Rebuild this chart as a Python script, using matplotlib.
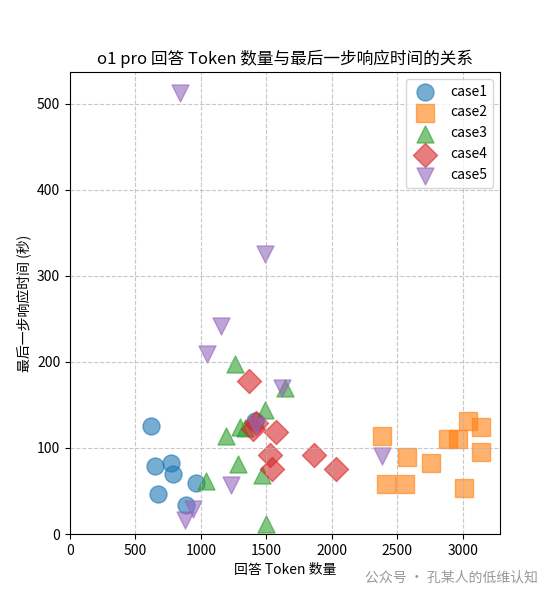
import matplotlib
matplotlib.use("Agg")
import matplotlib.pyplot as plt

plt.rcParams['font.family'] = ['Noto Sans CJK SC', 'DejaVu Sans']

c1x = [620, 650, 670, 770, 790, 890, 960, 1410]
c1y = [125, 79, 47, 82, 70, 34, 59, 131]
c2x = [2380, 2410, 2570, 2560, 2760, 2890, 2960, 3040, 3140, 3140, 3010]
c2y = [114, 58, 89, 58, 83, 111, 110, 131, 124, 95, 53]
c3x = [1040, 1190, 1260, 1280, 1300, 1340, 1470, 1490, 1500, 1640]
c3y = [62, 114, 198, 81, 124, 123, 69, 144, 12, 170]
c4x = [1370, 1400, 1420, 1530, 1540, 1570, 1860, 2030]
c4y = [178, 122, 129, 92, 75, 118, 92, 75]
c5x = [840, 880, 940, 1050, 1150, 1230, 1490, 1420, 1620, 2380]
c5y = [513, 16, 29, 209, 242, 57, 326, 125, 170, 91]

fig = plt.figure(figsize=(5.55, 6.0), dpi=100)
ax = fig.add_axes([0.126, 0.11, 0.774, 0.77])
series = [(c1x, c1y, 'o', 'case1'), (c2x, c2y, 's', 'case2'), (c3x, c3y, '^', 'case3'),
          (c4x, c4y, 'D', 'case4'), (c5x, c5y, 'v', 'case5')]
for x, y, m, lab in series:
    ax.scatter(x, y, marker=m, s=150, alpha=0.6, label=lab)
ax.set_xlim(0, 3280)
ax.set_ylim(0, 537)
ax.grid(True, linestyle='--', alpha=0.7)
ax.set_title('o1 pro 回答 Token 数量与最后一步响应时间的关系', fontsize=12)
ax.set_xlabel('回答 Token 数量', fontsize=10)
ax.set_ylabel('最后一步响应时间 (秒)', fontsize=10)
ax.legend(loc='upper right', fontsize=10)
fig.text(0.97, 0.03, '公众号 · 孔某人的低维认知', ha='right', fontsize=10, color='#999999')
fig.savefig('out.png')
